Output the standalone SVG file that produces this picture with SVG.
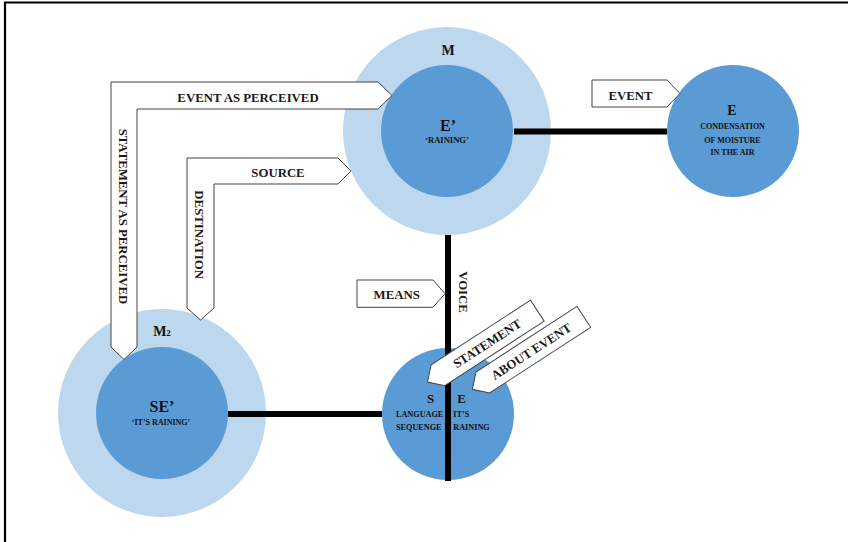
<svg xmlns="http://www.w3.org/2000/svg" width="848" height="542" viewBox="0 0 848 542">
<style>
.outer{fill:#BDD7EE}
.inner{fill:#5B9BD5}
.lbl{font-family:"Liberation Serif","Times New Roman",serif;font-weight:bold;fill:#111;text-anchor:middle}
.al{font-family:"Liberation Serif","Times New Roman",serif;font-weight:bold;fill:#1a1a1a;font-size:12.8px;text-anchor:middle}
.arrow{fill:#fff;stroke:#444;stroke-width:1}
.conn{stroke:#000;stroke-width:6;fill:none}
</style>
<rect width="848" height="542" fill="#fff"/>
<path d="M5,542 V2.5 H848" fill="none" stroke="#000" stroke-width="2.2"/>

<g id="node-M">
<circle class="outer" cx="447" cy="131" r="104"/>
<circle class="inner" cx="447" cy="131" r="66"/>
<text class="lbl" x="448" y="55" font-size="14">M</text>
<text class="lbl" x="448" y="131" font-size="16">E’</text>
<text class="lbl" x="447" y="142.5" font-size="8.5">‘RAINING’</text>
</g>

<g id="node-E">
<circle class="inner" cx="733" cy="131" r="66"/>
<text class="lbl" x="732" y="115" font-size="14">E</text>
<text class="lbl" x="732.5" y="128.5" font-size="8">CONDENSATION</text>
<text class="lbl" x="732.5" y="142.5" font-size="8">OF MOISTURE</text>
<text class="lbl" x="732.5" y="155" font-size="8">IN THE AIR</text>
</g>

<g id="node-M2">
<circle class="outer" cx="162" cy="413" r="104"/>
<circle class="inner" cx="162" cy="413" r="66"/>
<text class="lbl" x="162" y="335.5" font-size="14">M<tspan font-size="9">2</tspan></text>
<text class="lbl" x="162" y="412" font-size="16">SE’</text>
<text class="lbl" x="161" y="425" font-size="8">‘IT’S RAINING’</text>
</g>

<g id="node-S">
<circle class="inner" cx="448" cy="414" r="66"/>
<text class="lbl" x="430.5" y="402.7" font-size="13">S</text>
<text class="lbl" x="461.7" y="402.7" font-size="13">E</text>
<text class="lbl" x="396" y="416.7" font-size="8.2" text-anchor="start" style="text-anchor:start">LANGUAGE</text>
<text class="lbl" x="396" y="430" font-size="8.2" style="text-anchor:start">SEQUENGE</text>
<text class="lbl" x="453.3" y="416.7" font-size="8.2" style="text-anchor:start">IT’S</text>
<text class="lbl" x="453.3" y="430" font-size="8.2" style="text-anchor:start">RAINING</text>
</g>

<g id="connectors">
<line class="conn" x1="514" y1="131.5" x2="667" y2="131.5"/>
<line class="conn" x1="448" y1="235" x2="448" y2="481"/>
<line class="conn" x1="228" y1="414" x2="382" y2="414"/>
</g>

<g id="arrow-event-as-perceived">
<polygon class="arrow" points="111,82 378,82 392,95.5 378,109 137,109 137,347 124,359.5 111,347"/>
<text class="al" x="248" y="101.5">EVENT AS PERCEIVED</text>
<text class="al" transform="translate(119,216.5) rotate(90)" x="0" y="0" font-size="13">STATEMENT AS PERCEIVED</text>
</g>

<g id="arrow-source">
<polygon class="arrow" points="187,158 338,158 351,171 338,184 214,184 214,308 200.5,320 187,308"/>
<text class="al" x="278" y="177.3">SOURCE</text>
<text class="al" transform="translate(194.5,234.7) rotate(90)" x="0" y="0">DESTINATION</text>
</g>

<g id="arrow-event">
<polygon class="arrow" points="592,80 667,80 680,93.5 667,107 592,107"/>
<text class="al" x="630.5" y="100">EVENT</text>
</g>

<g id="arrow-means">
<polygon class="arrow" points="357,280 433,280 445,293.7 433,307.3 357,307.3"/>
<text class="al" x="396.7" y="299">MEANS</text>
</g>

<g id="label-voice">
<text class="al" transform="translate(458.5,292) rotate(90)" x="0" y="0" font-size="12">VOICE</text>
</g>

<g id="arrow-statement" transform="translate(427.5,382) rotate(-33)">
<polygon class="arrow" points="0,0 12.5,-12.5 131,-12.5 131,12.5 12.5,12.5"/>
<text class="al" x="71" y="4.6" font-size="13">STATEMENT</text>
</g>

<g id="arrow-about-event" transform="translate(472.3,389.3) rotate(-33)">
<polygon class="arrow" points="0,0 12.5,-12.5 133,-12.5 133,12.5 12.5,12.5"/>
<text class="al" x="70" y="4.6" font-size="13">ABOUT EVENT</text>
</g>
</svg>
